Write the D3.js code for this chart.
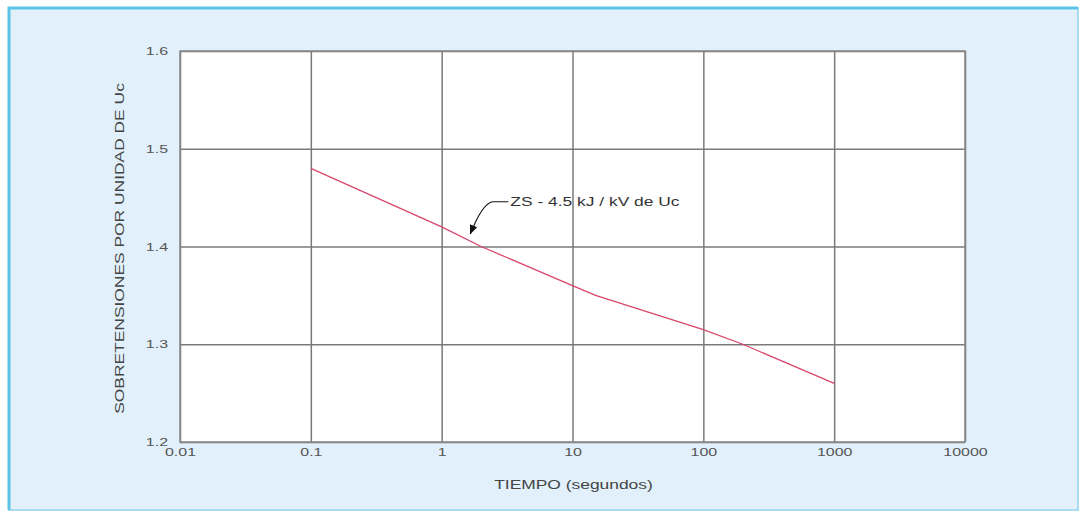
<!DOCTYPE html>
<html>
<head>
<meta charset="utf-8">
<script src="https://cdn.jsdelivr.net/npm/d3@7"></script>
<style>
  body { margin: 0; background: #ffffff; }
  svg { display: block; font-family: "Liberation Sans", Arial, sans-serif; }
</style>
</head>
<body>
<div id="chart"></div>
<script>
// Curve (time in s, overvoltage p.u. of Uc)
const tiempo = [0.1, 1, 2, 10, 15, 100, 200, 1000];
const sobretension = [1.48, 1.42, 1.40, 1.36, 1.35, 1.315, 1.30, 1.26];
const xTicks = [0.01, 0.1, 1, 10, 100, 1000, 10000];
const xTickLabels = ["0.01", "0.1", "1", "10", "100", "1000", "10000"];
const yTicks = [1.2, 1.3, 1.4, 1.5, 1.6];

const W = 1086, H = 513;
const margin = { top: 51, right: 121, bottom: 71, left: 180 };
const width = W - margin.left - margin.right;
const height = H - margin.top - margin.bottom;
const stretch = 1.45; // glyphs in the original are drawn wide

const svg = d3.select("#chart").append("svg")
    .attr("width", W)
    .attr("height", H);

// Panel background and frame
svg.append("rect")
    .attr("x", 9).attr("y", 8)
    .attr("width", 1069).attr("height", 502)
    .attr("fill", "#e1f0fa")
    .attr("stroke", "#a9dcef")
    .attr("stroke-width", 2);
svg.append("path")
    .attr("d", "M9,510 L9,8 L1078,8")
    .attr("fill", "none")
    .attr("stroke", "#5cc3e6")
    .attr("stroke-width", 3);

const g = svg.append("g")
    .attr("transform", `translate(${margin.left},${margin.top})`);

const x = d3.scaleLog()
    .domain([0.01, 10000])
    .range([0, width]);

const y = d3.scaleLinear()
    .domain([1.2, 1.6])
    .range([height, 0]);

// Plot area
g.append("rect")
    .attr("width", width)
    .attr("height", height)
    .attr("fill", "#ffffff");

// Grid lines
g.append("g")
    .call(d3.axisBottom(x).tickValues(xTicks).tickSize(height).tickFormat(""))
    .call(s => s.select(".domain").remove())
    .call(s => s.selectAll("line").attr("stroke", "#7a7a7a").attr("stroke-width", 1.5));

g.append("g")
    .call(d3.axisLeft(y).tickValues(yTicks).tickSize(-width).tickFormat(""))
    .call(s => s.select(".domain").remove())
    .call(s => s.selectAll("line").attr("stroke", "#7a7a7a").attr("stroke-width", 1.5));

g.append("rect")
    .attr("width", width)
    .attr("height", height)
    .attr("fill", "none")
    .attr("stroke", "#8a8a8a")
    .attr("stroke-width", 1.5);

// Tick labels
g.append("g")
    .attr("transform", `translate(0,${height})`)
    .call(d3.axisBottom(x).tickValues(xTicks).tickSize(0).tickPadding(6)
        .tickFormat((d, i) => xTickLabels[i]))
    .call(s => s.select(".domain").remove())
    .call(s => s.selectAll("text")
        .attr("font-size", 11).attr("fill", "#555")
        .attr("font-family", "Liberation Sans, Arial, sans-serif"));

g.append("g")
    .call(d3.axisLeft(y).tickValues(yTicks).tickSize(0).tickPadding(12)
        .tickFormat(d3.format(".1f")))
    .call(s => s.select(".domain").remove())
    .call(s => s.selectAll("text")
        .attr("font-size", 11).attr("fill", "#555")
        .attr("font-family", "Liberation Sans, Arial, sans-serif"));

// Curve
const pts = tiempo.map((t, i) => [t, sobretension[i]]);
g.append("path")
    .datum(pts)
    .attr("fill", "none")
    .attr("stroke", "#d9466c")
    .attr("stroke-width", 1.3)
    .attr("d", d3.line().x(d => x(d[0])).y(d => y(d[1])));

// Annotation with arrow
svg.append("defs").append("marker")
    .attr("id", "arrow")
    .attr("viewBox", "0 0 10 10")
    .attr("refX", 9).attr("refY", 5)
    .attr("markerWidth", 8).attr("markerHeight", 8)
    .attr("orient", "auto")
    .append("path")
    .attr("d", "M0,1 L10,5 L0,9 Z")
    .attr("fill", "#111");

const ax = x(1.6), ay = y(1.41);
g.append("path")
    .attr("d", `M${ax + 40},${ay - 35} L${ax + 24},${ay - 35} Q${ax + 14},${ay - 33} ${ax + 2},${ay - 3}`)
    .attr("fill", "none")
    .attr("stroke", "#111")
    .attr("stroke-width", 1.2)
    .attr("marker-end", "url(#arrow)");

g.append("text")
    .attr("x", ax + 42)
    .attr("y", ay - 31)
    .attr("font-size", 12)
    .attr("fill", "#333")
    .text("ZS - 4.5 kJ / kV de Uc");

// Axis titles
svg.append("text")
    .attr("x", margin.left + x(10) + 1)
    .attr("y", 489)
    .attr("text-anchor", "middle")
    .attr("font-size", 12)
    .attr("fill", "#444")
    .text("TIEMPO (segundos)");

svg.append("text")
    .attr("transform", `translate(124,${margin.top + height / 2 + 2}) rotate(-90)`)
    .attr("text-anchor", "middle")
    .attr("font-size", 12)
    .attr("fill", "#444")
    .text("SOBRETENSIONES POR UNIDAD DE Uc");

// widen every label like the source lettering
svg.selectAll("text").each(function () {
    const len = this.getComputedTextLength();
    d3.select(this)
        .attr("textLength", len * stretch)
        .attr("lengthAdjust", "spacingAndGlyphs");
});
</script>
</body>
</html>
